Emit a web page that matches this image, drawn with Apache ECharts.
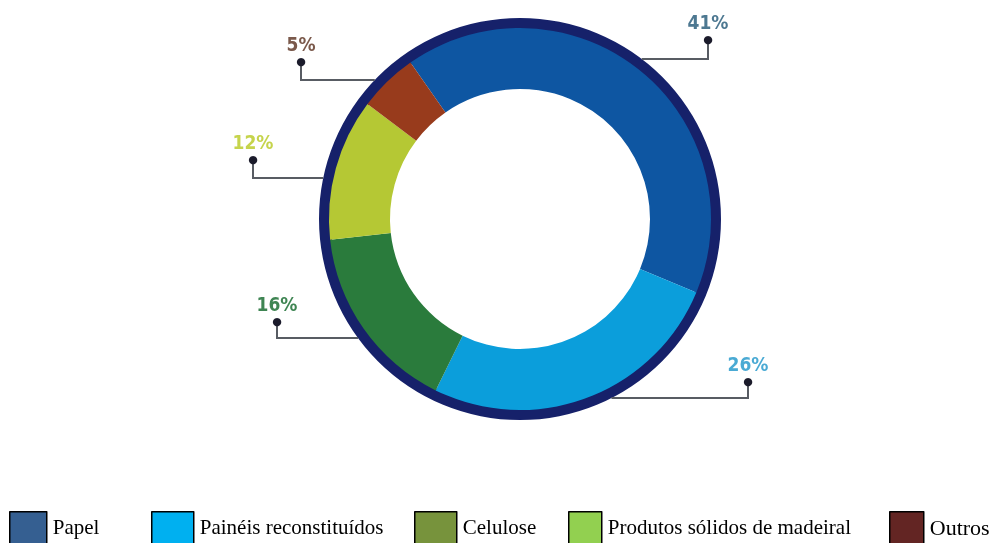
<!DOCTYPE html>
<html>
<head>
<meta charset="utf-8">
<script src="https://cdn.jsdelivr.net/npm/echarts@6/dist/echarts.min.js"></script>
<style>
  html, body { margin: 0; padding: 0; background: #ffffff; }
  #chart { width: 997px; height: 543px; }
</style>
</head>
<body>
<div id="chart"></div>
<script>
// Destination of planted-forest wood by product segment (share, %)
const categories = ['Papel', 'Painéis reconstituídos', 'Celulose', 'Produtos sólidos de madeiral', 'Outros'];
const shares = [41, 26, 16, 12, 5];

// Ring and callout colours
const sliceColors = ['#0e56a2', '#0b9edb', '#2a7b3c', '#b5c834', '#983b1c'];
const labelColors = ['#4d7891', '#4aaad4', '#3f8553', '#c6d44c', '#7b5a4c'];
const legendColors = ['#355f91', '#00b0f0', '#77933c', '#92d050', '#632523'];

// Ring geometry (px)
const CX = 520, CY = 219;
const R_IN = 130, R_BAND = 191, R_OUT = 201;

// Callout placement: dot x, dot y, y of the horizontal leader segment
const callouts = [
  [708, 40, 59],
  [748, 382, 398],
  [277, 322, 338],
  [253, 160, 178],
  [301, 62, 80]
];

// Legend placement: icon left, icon width, font size
const legendSlots = [
  [9, 37, 21],
  [151, 42, 21],
  [414, 42, 21],
  [568, 33, 21],
  [889, 34, 22]
];

const chart = echarts.init(document.getElementById('chart'), null, { renderer: 'canvas' });

const legends = categories.map(function (name, i) {
  return {
    data: [{
      name: name,
      icon: 'rect',
      itemStyle: { color: legendColors[i], borderColor: '#000000', borderWidth: 1.5 }
    }],
    left: legendSlots[i][0],
    top: 511,
    padding: 0,
    itemWidth: legendSlots[i][1],
    itemHeight: 34,
    selectedMode: false,
    textStyle: {
      fontFamily: 'Liberation Serif, Times New Roman, serif',
      fontSize: legendSlots[i][2],
      color: '#000000',
      padding: [0, 0, 5, 1]
    }
  };
});

const option = {
  backgroundColor: '#ffffff',
  animation: false,
  legend: legends,
  series: [
    {
      // navy rim around the ring
      type: 'pie',
      silent: true,
      center: [CX, CY],
      radius: [R_BAND - 2, R_OUT],
      label: { show: false },
      labelLine: { show: false },
      itemStyle: { color: '#16216a' },
      data: [{ value: 1, name: '' }],
      z: 1
    },
    {
      type: 'pie',
      center: [CX, CY],
      radius: [R_IN, R_BAND],
      startAngle: 125,
      clockwise: true,
      avoidLabelOverlap: false,
      emphasis: { disabled: true },
      z: 2,
      label: {
        show: true,
        position: 'outside',
        formatter: '{p|{c}%}\n{dot|●}',
        rich: {
          p: {
            fontFamily: 'DejaVu Sans Condensed, DejaVu Sans, sans-serif',
            fontWeight: 'bold',
            fontSize: 19,
            lineHeight: 22
          },
          dot: { fontSize: 11, lineHeight: 10, color: '#1b1b2b', fontFamily: 'DejaVu Sans' }
        }
      },
      labelLine: {
        show: true,
        smooth: false,
        lineStyle: { color: '#585c63', width: 2 }
      },
      labelLayout: function (p) {
        const c = callouts[p.dataIndex];
        const side = c[0] < CX ? -1 : 1;
        const dy = c[2] - CY;
        const sx = CX + side * Math.sqrt(Math.max(0, R_OUT * R_OUT - dy * dy));
        return {
          x: c[0],
          y: c[1] + 5,
          align: 'center',
          verticalAlign: 'bottom',
          labelLinePoints: [[sx, c[2]], [c[0], c[2]], [c[0], c[1]]]
        };
      },
      data: categories.map(function (name, i) {
        return {
          name: name,
          value: shares[i],
          itemStyle: { color: sliceColors[i] },
          label: { color: labelColors[i] }
        };
      })
    }
  ]
};

chart.setOption(option);
</script>
</body>
</html>
